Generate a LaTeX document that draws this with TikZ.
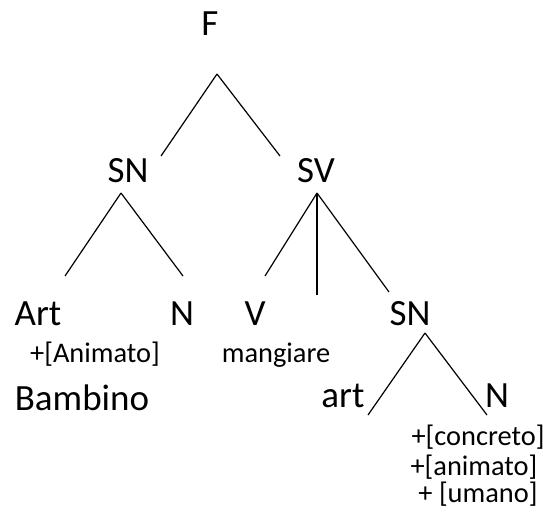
\documentclass[tikz,border=0pt]{standalone}
\usepackage{fontspec}
\setmainfont{Carlito}
\usepackage{tikz}

\begin{document}
\begin{tikzpicture}[x=0.5pt, y=-0.5pt, line width=0.6pt,
  big/.style={font=\fontsize{18.5}{22}\selectfont, anchor=base, inner sep=0pt},
  small/.style={font=\fontsize{14.2}{17}\selectfont, anchor=base, inner sep=0pt}]
\useasboundingbox (0,0) rectangle (543,511);

% labels
\node[big] (F) at (210,35) {F};
\node[big] (SNa) at (128,182) {SN};
\node[big] (SV) at (316,182) {SV};
\node[big] (Art) at (38,325) {Art};
\node[big] (Na) at (182,325) {N};
\node[big] (V) at (255,325) {V};
\node[big] (SNb) at (410,325) {SN};
\node[small] (anim) at (95,362) {+[Animato]};
\node[small] (mang) at (276,362) {mangiare};
\node[big] (bamb) at (82,410) {Bambino};
\node[big] (art) at (343,407) {art};
\node[big] (Nb) at (497,407) {N};
\node[small] (conc) at (478,445) {+[concreto]};
\node[small] (anima) at (474,475) {+[animato]};
\node[small] (uman) at (478,502) {+ [umano]};

% branch points
\coordinate (topF) at (217,74);
\coordinate (topSNa) at (121,193);
\coordinate (topSV) at (317,193);
\coordinate (topSNb) at (425,333);
\coordinate (toSNa) at (161,156);
\coordinate (toSV) at (280,156);
\coordinate (toArt) at (65,276);
\coordinate (toNa) at (183,276);
\coordinate (toV) at (265,276);
\coordinate (toMid) at (317,295);
\coordinate (toSNb) at (389,292);
\coordinate (toart) at (368,415);
\coordinate (toNb) at (487,415);

\foreach \e in {toSNa,toSV}
  \draw (topF) -- (\e);
\foreach \e in {toArt,toNa}
  \draw (topSNa) -- (\e);
\foreach \e in {toV,toMid,toSNb}
  \draw (topSV) -- (\e);
\foreach \e in {toart,toNb}
  \draw (topSNb) -- (\e);
\end{tikzpicture}
\end{document}
